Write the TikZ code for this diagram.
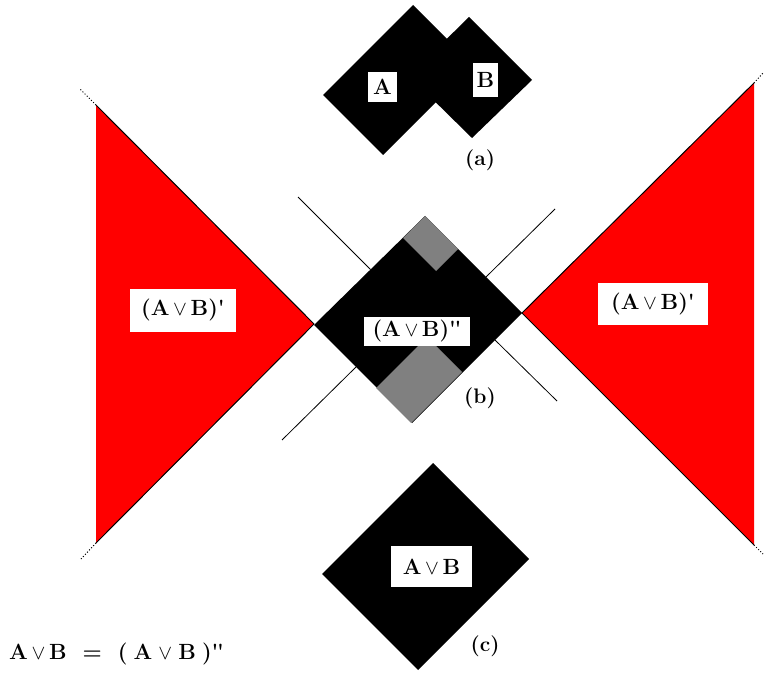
\documentclass[tikz,border=0pt]{standalone}
\usepackage{fontspec}
\newcommand{\dq}{\textquotesingle\kern-1.5pt\textquotesingle}
\begin{document}
\begin{tikzpicture}[x=1pt,y=-1pt,
  lbl/.style={fill=white,font=\fontsize{22}{26}\selectfont\bfseries,inner sep=0pt,align=center},
  sublbl/.style={font=\fontsize{21}{24}\selectfont\bfseries,inner sep=0pt},
  thinline/.style={line width=0.8pt,black},
  coneedge/.style={line width=1pt,black},
  dotline/.style={line width=1pt,black,dash pattern=on 1pt off 2pt}]
\useasboundingbox (0,0) rectangle (765,676);
% red triangles
\fill[red] (96,105) -- (314,324) -- (96,543) -- cycle;
\fill[red] (754,83) -- (522,313) -- (754,545) -- cycle;
\draw[coneedge] (96,105) -- (314,324) -- (96,543);
\draw[coneedge] (754,83) -- (522,313) -- (754,545);
\draw[dotline] (96,105) -- (80,89);
\draw[dotline] (96,543) -- (81,559);
\draw[dotline] (754,83) -- (763,73);
\draw[dotline] (754,545) -- (763,554);
% (a)
\fill[black] (323,95) -- (413,5) -- (473,65) -- (383,155) -- cycle;
\fill[black] (469,17) -- (532,80) -- (472,138) -- (409,76) -- cycle;
% (b)
\fill[black] (314,325) -- (425,216) -- (522,313) -- (412,423) -- cycle;
\fill[gray] (425,216) -- (458,249) -- (436,271) -- (403,238) -- cycle;
\fill[gray] (427,337) -- (462,372) -- (411,423) -- (376,388) -- cycle;
\draw[thinline] (298,197) -- (370.5,269.5);
\draw[thinline] (555,209) -- (486,277);
\draw[thinline] (282,440) -- (356,367);
\draw[thinline] (495,340) -- (557,401);
% (c)
\fill[black] (433,463) -- (529,559) -- (418,670) -- (322,574) -- cycle;
% labels
\node[lbl,minimum width=29pt,minimum height=30pt] (lblA) at (382.5,87) {A};
\node[lbl,minimum width=25pt,minimum height=34pt] (lblBB) at (485.5,80) {B};
\node[lbl,minimum width=106pt,minimum height=43pt] (lblLeft) at (183,310.5) {(A\,$\vee$\,B)\textquotesingle};
\node[lbl,minimum width=110pt,minimum height=42pt] (lblRight) at (653,304) {(A\,$\vee$\,B)\textquotesingle};
\node[lbl,minimum width=106pt,minimum height=29pt] (lblB) at (417,331) {(A\,$\vee$\,B)\dq};
\node[lbl,minimum width=81pt,minimum height=41pt] (lblC) at (431.5,566.5) {A\,$\vee$\,B};
\node[sublbl] (capA) at (480,160.5) {(a)};
\node[sublbl] (capB) at (480,398) {(b)};
\node[sublbl] (capC) at (485,646) {(c)};
\node[lbl,fill=none,anchor=west] (formula) at (9,654) {A\,$\vee$\,B\hspace{16pt}=\hspace{16pt}(\;A\;$\vee$\;B\;)\dq};
\end{tikzpicture}
\end{document}
